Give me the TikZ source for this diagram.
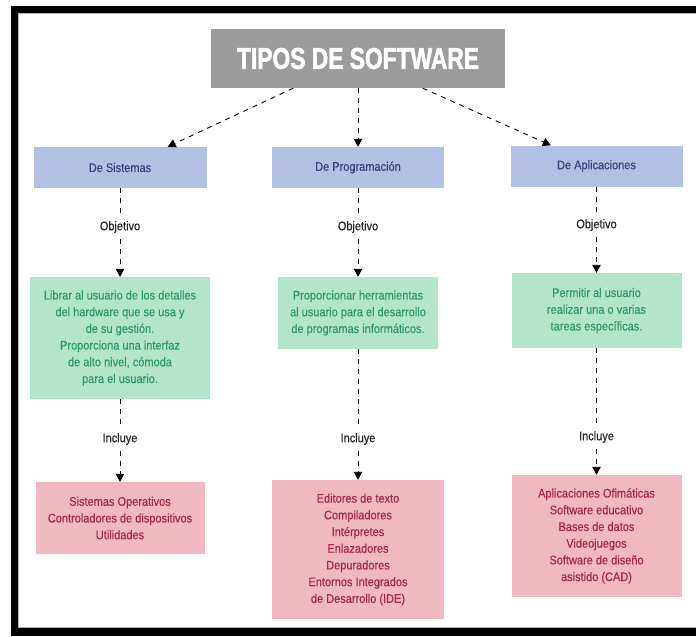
\documentclass[tikz,border=0pt]{standalone}
\usepackage{fontspec}
\setmainfont[FakeStretch=0.88,FakeBold=0.35]{Liberation Sans}
\newfontfamily\titfont[FakeStretch=0.76,FakeBold=1.6]{Liberation Sans}
\usetikzlibrary{arrows.meta, calc}
\definecolor{gristit}{HTML}{9C9B9B}
\definecolor{azul}{HTML}{B3C0E6}
\definecolor{azultxt}{HTML}{34437F}
\definecolor{verde}{HTML}{B3E5CC}
\definecolor{verdetxt}{HTML}{2F9963}
\definecolor{rosa}{HTML}{F0B8C1}
\definecolor{rosatxt}{HTML}{A32B47}
\begin{document}
\begin{tikzpicture}[x=1pt, y=-1pt,
    every node/.style = {inner sep=0pt, align=center, font=\fontsize{12.5}{16.7}\selectfont},
    titulo/.style = {fill=gristit, text=white, minimum width=294pt, minimum height=59pt,
        font=\titfont\bfseries\fontsize{30}{30}\selectfont},
    tipo/.style = {fill=azul, text=azultxt, minimum height=41pt},
    obj/.style = {fill=verde, text=verdetxt},
    lista/.style = {fill=rosa, text=rosatxt},
    etiq/.style = {text=black!85, inner sep=6pt},
    tramo/.style = {dash pattern=on 5pt off 5pt, line width=0.9pt},
    enlace/.style = {tramo, -{Triangle[width=8.5pt,length=8pt]}}
    ]
    \useasboundingbox (0,0) rectangle (696,637);
    \fill[white] (0,0) rectangle (696,637);
    \fill[black] (11,6) rectangle (696,13);
    \fill[black] (11,6) rectangle (18,636);
    \fill[black] (11,628) rectangle (696,636);
    \draw[gray!60, line width=0.8pt] (696,13.4) -- (18.4,13.4) -- (18.4,627.6) -- (696,627.6);

    \node[titulo] (tit) at (358,58.5) {TIPOS DE SOFTWARE};

    \node[tipo, minimum width=173pt] (b1) at (120,167.5) {De Sistemas};
    \node[tipo, minimum width=172pt] (b2) at (358,167.5) {De Programación};
    \node[tipo, minimum width=172pt] (b3) at (596.5,166) {De Aplicaciones};

    \node[etiq] (o1) at (120,227) {Objetivo};
    \node[etiq] (o2) at (358,227) {Objetivo};
    \node[etiq] (o3) at (596.5,225) {Objetivo};

    \node[obj, minimum width=180pt, minimum height=122pt] (g1) at (120,338) {Librar al usuario de los detalles\\del hardware que se usa y\\de su gestión.\\Proporciona una interfaz\\de alto nivel, cómoda\\para el usuario.};
    \node[obj, minimum width=160pt, minimum height=72pt] (g2) at (358,313) {Proporcionar herramientas\\al usuario para el desarrollo\\de programas informáticos.};
    \node[obj, minimum width=170pt, minimum height=75pt] (g3) at (596.5,310.5) {Permitir al usuario\\realizar una o varias\\tareas específicas.};

    \node[etiq] (i1) at (120,439) {Incluye};
    \node[etiq] (i2) at (358,439) {Incluye};
    \node[etiq] (i3) at (596.5,437) {Incluye};

    \node[lista, minimum width=169pt, minimum height=72pt] (p1) at (120,518) {Sistemas Operativos\\Controladores de dispositivos\\Utilidades};
    \node[lista, minimum width=172pt, minimum height=139pt] (p2) at (358,549.5) {Editores de texto\\Compiladores\\Intérpretes\\Enlazadores\\Depuradores\\Entornos Integrados\\de Desarrollo (IDE)};
    \node[lista, minimum width=170pt, minimum height=122pt] (p3) at (596.5,536) {Aplicaciones Ofimáticas\\Software educativo\\Bases de datos\\Videojuegos\\Software de diseño\\asistido (CAD)};

    \draw[enlace] ($(tit.south)!0.44!(tit.south west)$) -- ($(b1.north)!0.55!(b1.north east)$);
    \draw[enlace] (tit.south) -- (b2.north);
    \draw[enlace] ($(tit.south)!0.44!(tit.south east)$) -- ($(b3.north)!0.53!(b3.north west)$);

    \foreach \i in {1,2,3} {
        \draw[tramo] (b\i.south) -- (o\i.north);
        \draw[enlace] (o\i.south) -- (g\i.north);
        \draw[tramo] (g\i.south) -- (i\i.north);
        \draw[enlace] (i\i.south) -- (p\i.north);
    }
\end{tikzpicture}
\end{document}
